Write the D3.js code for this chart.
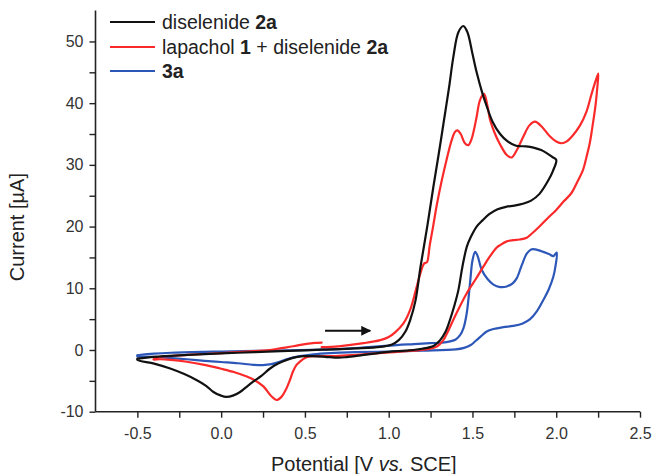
<!DOCTYPE html>
<html>
<head>
<meta charset="utf-8">
<script src="https://cdn.jsdelivr.net/npm/d3@7"></script>
<style>
  html, body { margin: 0; padding: 0; background: #fff; }
  svg { display: block; font-family: "Liberation Sans", Arial, Helvetica, sans-serif; }
</style>
</head>
<body>
<svg id="chart" width="653" height="474"></svg>
<script>
// ---- Data (potential V vs. SCE, current µA) ----
const seriesNames = ["diselenide 2a", "lapachol 1 + diselenide 2a", "3a"];
const seriesColors = ["#111111", "#fb2a2a", "#2c57b8"];

const diselenide2a = [
  [-0.5,-1.4],[-0.4,-1.1],[-0.2,-0.8],[0.0,-0.55],[0.2,-0.35],[0.4,-0.15],[0.6,0.05],[0.8,0.25],[0.95,0.5],
  [1.02,0.9],[1.06,1.6],[1.1,3.0],[1.13,5.0],[1.16,8.0],[1.19,13.5],[1.23,20],[1.267,26.5],[1.3,32],[1.327,36.7],
  [1.36,42.5],[1.386,47.5],[1.416,51.5],[1.446,52.5],[1.47,51.5],[1.5,48],[1.525,45.0],[1.555,42],[1.585,39.5],
  [1.62,37],[1.665,35],[1.71,33.8],[1.76,33.1],[1.82,33],[1.864,32.8],[1.91,32.4],[1.943,31.9],[1.975,31.3],[2.0,30.8],
  [1.98,29],[1.953,27.5],[1.9,25.3],[1.85,24.2],[1.8,23.7],[1.75,23.4],[1.7,23.2],[1.65,22.8],[1.6,22],[1.56,21],
  [1.525,20],[1.49,18.3],[1.466,16.7],[1.44,13.5],[1.416,9.7],[1.39,7],[1.366,4.9],[1.34,3],[1.307,1.6],[1.27,0.7],
  [1.2,0.2],[1.1,-0.1],[1.0,-0.3],[0.85,-0.8],[0.75,-1.15],[0.7,-1.25],[0.62,-1.1],[0.55,-1.0],[0.491,-1.0],
  [0.44,-1.2],[0.392,-1.6],[0.34,-2.2],[0.292,-3.0],[0.24,-4.2],[0.193,-5.1],[0.15,-6.0],[0.113,-6.8],[0.07,-7.4],
  [0.03,-7.6],[0.0,-7.4],[-0.046,-6.8],[-0.09,-5.8],[-0.145,-4.9],[-0.22,-3.9],[-0.304,-3.0],[-0.4,-2.2],[-0.5,-1.6],
  [-0.5,-1.4]
];

const lapacholDiselenide = [
  [0.6,0.45],[0.7,0.6],[0.85,1.1],[0.95,1.6],[1.0,2.1],[1.04,2.9],[1.088,4.3],[1.128,6.5],[1.16,9.5],[1.19,12.5],
  [1.207,13.8],[1.215,14.1],[1.228,14.2],[1.245,17],[1.265,20],[1.287,23.5],[1.317,27.5],[1.347,31],[1.376,34],
  [1.395,35.3],[1.41,35.6],[1.43,35],[1.455,33.5],[1.475,33.2],[1.495,34.2],[1.51,35.8],[1.525,37.8],[1.545,40.5],
  [1.569,41.5],[1.59,39.5],[1.605,37.3],[1.635,35.0],[1.665,33.3],[1.705,31.6],[1.734,31.2],[1.765,32.4],[1.804,34.6],
  [1.84,36.4],[1.874,37.0],[1.91,36.3],[1.963,34.6],[2.0,33.8],[2.033,33.5],[2.063,33.8],[2.1,34.8],[2.142,36.4],
  [2.18,38.6],[2.21,41.4],[2.235,43.6],[2.251,44.8],
  [2.245,42.5],[2.238,40.5],[2.231,38.9],[2.215,36.0],[2.2,33.5],[2.18,31.2],[2.16,29.2],[2.125,27.2],[2.09,25.4],
  [2.045,24.1],[2.0,22.7],[1.95,21.4],[1.9,20.0],[1.86,19.0],[1.824,18.2],[1.78,17.9],[1.744,17.8],[1.705,17.6],
  [1.665,17.0],[1.645,16.6],[1.6,15],[1.565,13.5],[1.52,11.5],[1.466,9.2],[1.42,6.8],[1.386,4.9],[1.35,2.8],
  [1.326,1.6],[1.29,0.6],[1.247,0.2],[1.15,-0.1],[1.048,-0.3],[0.85,-0.7],[0.65,-1.0],[0.58,-1.0],[0.53,-1.05],
  [0.5,-1.3],[0.47,-1.9],[0.45,-2.4],[0.43,-3.4],[0.41,-4.9],[0.385,-6.5],[0.36,-7.6],[0.332,-8.1],[0.3,-7.5],
  [0.252,-5.9],[0.2,-4.9],[0.153,-4.3],[0.08,-3.6],[-0.006,-3.0],[-0.1,-2.4],[-0.205,-1.9],[-0.3,-1.6],[-0.364,-1.5],
  [-0.404,-1.55],
  [-0.39,-1.3],[-0.36,-1.1],[-0.2,-0.8],[0.0,-0.5],[0.15,-0.25],[0.29,0.0],[0.36,0.3],[0.43,0.6],[0.51,1.0],
  [0.56,1.15],[0.6,1.2]
];

const compound3a = [
  [-0.5,-0.85],[-0.4,-0.6],[-0.3,-0.45],[-0.1,-0.3],[0.0,-0.25],[0.2,-0.15],[0.4,-0.05],[0.6,0.05],[0.8,0.3],
  [1.048,0.8],[1.15,0.95],[1.247,1.1],[1.32,1.2],[1.366,1.4],[1.4,1.7],[1.426,2.4],[1.446,3.5],[1.466,6.0],
  [1.486,11],[1.5,14.5],[1.516,15.9],[1.53,15.3],[1.555,13.0],[1.59,11.5],[1.625,10.6],[1.665,10.2],[1.705,10.3],
  [1.74,10.8],[1.764,11.6],[1.795,13.8],[1.824,15.6],[1.85,16.3],[1.875,16.3],[1.923,15.9],[1.96,15.5],[1.983,15.2],
  [2.003,15.8],
  [1.995,13.5],[1.983,11.9],[1.955,9.8],[1.923,8.1],[1.885,6.3],[1.844,5.0],[1.8,4.3],[1.744,3.9],[1.685,3.7],
  [1.625,3.4],[1.585,3.0],[1.55,2.2],[1.52,1.5],[1.49,0.8],[1.45,0.35],[1.4,0.1],[1.2,-0.1],[1.0,-0.25],[0.8,-0.35],
  [0.65,-0.5],[0.55,-0.7],[0.47,-1.0],[0.39,-1.5],[0.34,-2.0],[0.3,-2.3],[0.25,-2.45],[0.193,-2.4],[0.1,-2.15],
  [0.0,-1.95],[-0.1,-1.75],[-0.205,-1.5],[-0.3,-1.3],[-0.4,-1.1],[-0.5,-1.05],
  [-0.5,-0.85]
];

const xTicks = [-0.5,-0.25,0,0.25,0.5,0.75,1,1.25,1.5,1.75,2,2.25,2.5];
const yTicks = [-10,-5,0,5,10,15,20,25,30,35,40,45,50];
const arrowX = [0.62, 0.89];
const arrowY = [3.1, 3.1];

// ---- Chart ----
const svg = d3.select("#chart");
const x = d3.scaleLinear().domain([-0.75, 2.5]).range([95.5, 640]);
const y = d3.scaleLinear().domain([-10, 55]).range([411.7, 10.6]);

const axisColor = "#222";

// X axis
const gx = svg.append("g").attr("transform", `translate(0,${y(-10)})`)
  .call(d3.axisBottom(x).tickValues(xTicks).tickSize(6).tickSizeOuter(0).tickPadding(10)
    .tickFormat(d => (Math.abs(Math.round(d * 2) - d * 2) < 1e-9) ? d3.format(".1f")(d).replace("−", "-") : ""));
gx.select(".domain").attr("stroke", axisColor).attr("stroke-width", 1.6)
  .attr("d", `M${x(-0.75)},0H${x(2.5)}`);
gx.selectAll(".tick line").attr("stroke", axisColor).attr("stroke-width", 1.4);
gx.selectAll(".tick text").attr("fill", "#333").attr("font-size", 16)
  .attr("font-family", "'Liberation Sans', Arial, sans-serif");

// Y axis
const gy = svg.append("g").attr("transform", `translate(${x(-0.75)},0)`)
  .call(d3.axisLeft(y).tickValues(yTicks).tickSize(6).tickSizeOuter(0).tickPadding(6)
    .tickFormat(d => d % 10 === 0 ? String(d) : ""));
gy.select(".domain").attr("stroke", axisColor).attr("stroke-width", 1.6)
  .attr("d", `M0,${y(-10)}V${y(55)}`);
gy.selectAll(".tick line").attr("stroke", axisColor).attr("stroke-width", 1.4);
gy.selectAll(".tick text").attr("fill", "#333").attr("font-size", 16)
  .attr("font-family", "'Liberation Sans', Arial, sans-serif");

// Axis titles
svg.append("text")
  .attr("x", (x(-0.75) + x(2.5)) / 2 - 4).attr("y", 471)
  .attr("text-anchor", "middle").attr("font-size", 20).attr("fill", "#222")
  .call(t => {
    t.append("tspan").text("Potential [V ");
    t.append("tspan").attr("font-style", "italic").text("vs.");
    t.append("tspan").text(" SCE]");
  });

svg.append("text")
  .attr("transform", `translate(24,${(y(-10) + y(55)) / 2 + 16}) rotate(-90)`)
  .attr("text-anchor", "middle").attr("font-size", 20).attr("fill", "#222")
  .text("Current [µA]");

// Curves
const line = d3.line().x(d => x(d[0])).y(d => y(d[1])).curve(d3.curveCatmullRom.alpha(0.5));
const seriesData = [diselenide2a, lapacholDiselenide, compound3a];
// draw blue first, then red, then black
[2, 1, 0].forEach(i => {
  svg.append("path").datum(seriesData[i])
    .attr("d", line).attr("fill", "none")
    .attr("stroke", seriesColors[i]).attr("stroke-width", 2.2)
    .attr("stroke-linejoin", "round").attr("stroke-linecap", "round");
});

// Arrow annotation
svg.append("defs").append("marker")
  .attr("id", "ah").attr("viewBox", "0 0 10 10").attr("refX", 9).attr("refY", 5)
  .attr("markerWidth", 6).attr("markerHeight", 5).attr("markerUnits", "strokeWidth")
  .attr("orient", "auto")
  .append("path").attr("d", "M0,0L10,5L0,10Z").attr("fill", "#111");
svg.append("line")
  .attr("x1", x(arrowX[0])).attr("y1", y(arrowY[0]))
  .attr("x2", x(arrowX[1])).attr("y2", y(arrowY[1]))
  .attr("stroke", "#111").attr("stroke-width", 2).attr("marker-end", "url(#ah)");

// Legend
const legendRows = [22, 47, 71];
const lg = svg.append("g");
seriesNames.forEach((name, i) => {
  lg.append("line").attr("x1", 110).attr("x2", 155)
    .attr("y1", legendRows[i]).attr("y2", legendRows[i])
    .attr("stroke", seriesColors[i]).attr("stroke-width", 2.2);
});
const lt = (i) => lg.append("text").attr("x", 162).attr("y", legendRows[i] + 7)
  .attr("font-size", 19.5).attr("fill", "#222");
let t0 = lt(0);
t0.append("tspan").text("diselenide ");
t0.append("tspan").attr("font-weight", "bold").text("2a");
let t1 = lt(1);
t1.append("tspan").text("lapachol ");
t1.append("tspan").attr("font-weight", "bold").text("1");
t1.append("tspan").text(" + diselenide ");
t1.append("tspan").attr("font-weight", "bold").text("2a");
let t2 = lt(2);
t2.append("tspan").attr("font-weight", "bold").text("3a");
</script>
</body>
</html>
